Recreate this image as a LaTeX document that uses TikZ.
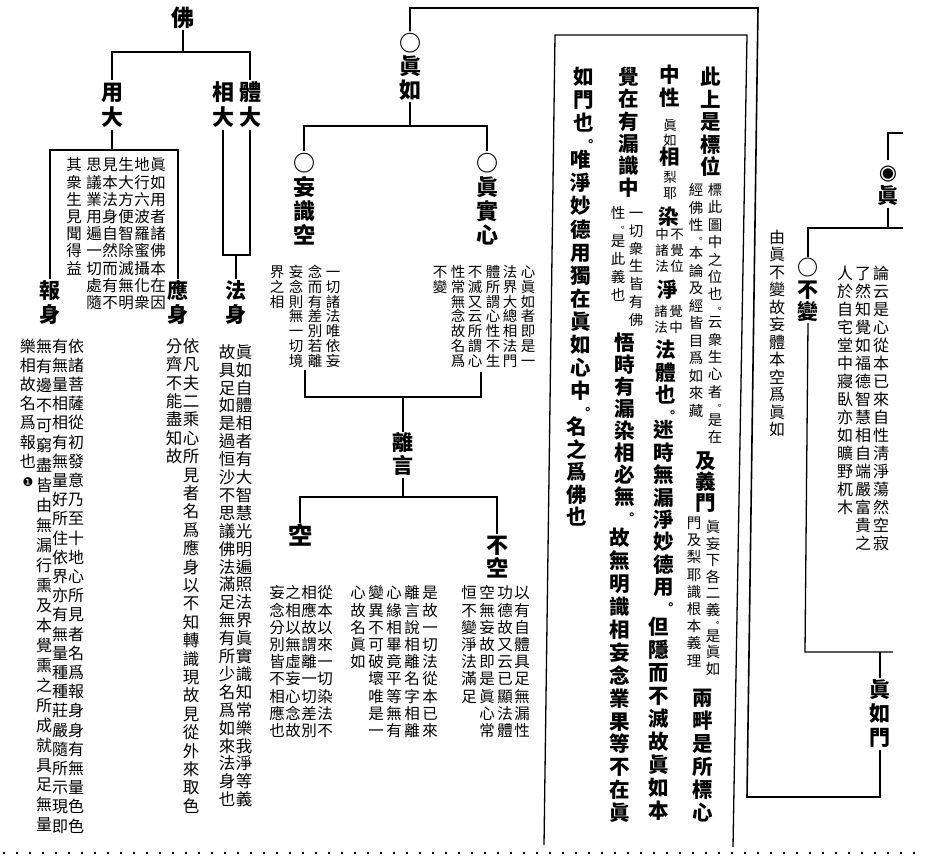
\documentclass[tikz,border=0pt]{standalone}
\usepackage{fontspec}
\newfontfamily\cjk{Noto Sans CJK TC}
\newfontfamily\djv{DejaVu Sans}
\newdimen\vsep
\newdimen\vw
\makeatletter
\def\vc@dot{。}
\def\cjstack#1{\vbox{\offinterlineskip\cjstack@a#1\relax}}
\def\cjstack@a#1{\ifx\relax#1\else\cjstack@cell{#1}\expandafter\cjstack@a\fi}
\def\cjstack@cell#1{\def\vc@a{#1}\ifx\vc@a\vc@dot
  \vbox to 0.6\vsep{\vss\hbox to\vw{\hss\kern0.6\vw
    \fontsize{\the\dimexpr0.56\vsep\relax}{\the\dimexpr0.56\vsep\relax}\selectfont
    \vrule height0.88em depth0.12em width0pt\smash{#1}\hss}\vss}%
 \else\vbox to\vsep{\vss\hbox to\vw{\hss\vrule height0.88em depth0.12em width0pt\smash{#1}\hss}\vss}\fi}
\makeatother
\newcommand\markone{{\djv\fontsize{12}{12}\selectfont ❶}}
\newcommand\fisheye{{\djv ◉}}
\tikzset{
  vt/.style 2 args={inner sep=0pt, outer sep=0pt, anchor=north,
    font=\cjk\fontsize{#1}{#1}\selectfont,
    execute at begin node={\vsep=#2pt\vw=#1pt\vw=1.1\vw}},
  vtb/.style 2 args={vt={#1}{#2}, font=\cjk\bfseries\fontsize{#1}{#1}\selectfont},
  ln/.style={line width=1.3pt, line cap=butt},
}
\newcommand\cjcol[6]{\node[vt={#4}{#5}] (#1) at (#2,{#3-#5/2}) {\cjstack{#6}};}
\newcommand\cjcolb[6]{\node[vtb={#4}{#5}] (#1) at (#2,{#3-#5/2}) {\cjstack{#6}};}
\begin{document}
\begin{tikzpicture}[x=1pt,y=-1pt]
\useasboundingbox (0,0) rectangle (925,857);
\fill[white] (0,0) rectangle (925,857);

% ---------------- left tree: 佛 ----------------
\cjcolb{fo}{183}{18}{23}{24}{佛}
\cjcolb{yong}{112}{92}{22}{25}{用大}
\cjcolb{ti}{250}{92}{22}{25}{體大}
\cjcolb{xiang}{223}{92}{22}{25}{相大}
\cjcolb{bao}{50}{291}{21}{24}{報身}
\cjcolb{ying}{178}{291}{21}{24}{應身}
\cjcolb{fa}{236}{291}{21}{24}{法身}

\coordinate (fj) at (183,52);
\coordinate (yl) at (112,52);
\coordinate (tr) at (250,52);
\draw[ln] (fo.south) -- (fj);
\draw[ln] (yong.north) -- (yl) -- (tr) -- (ti.north);
\coordinate (yb) at (112,150);
\coordinate (bl) at (50,150);
\coordinate (br) at (178,150);
\draw[ln] (yong.south) -- (yb);
\draw[ln] (bao.north) -- (bl) -- (br) -- (ying.north);
\coordinate (fb) at (236,255);
\draw[ln] (xiang.south) -- (xiang.south |- fb) -- (ti.south |- fb) -- (ti.south);
\draw[ln] (fb) -- (fa.north);

% box text under 用大
\cjcol{ya1}{158}{165}{15.5}{17.2}{眞如用者諸佛本在因}
\cjcol{ya2}{142}{165}{15.5}{17.2}{地行六波羅蜜攝化衆}
\cjcol{ya3}{126}{165}{15.5}{17.2}{生大方便智除滅無明}
\cjcol{ya4}{110}{165}{15.5}{17.2}{見本法身自然而有不}
\cjcol{ya5}{94}{165}{15.5}{17.2}{思議業用遍一切處隨}
\cjcol{ya6}{74}{165}{15.5}{17.2}{其衆生見聞得益}

% 報身 text
\cjcol{bt1}{76}{346}{16}{19.2}{依諸菩薩從初發意乃至十地心所見者名爲報身身有無量色色}
\cjcol{bt2}{60}{346}{16}{19.2}{有無量相相有無量好所住依界亦有無量種種莊嚴隨所示現即}
\cjcol{bt3}{44}{346}{16}{19.95}{無有邊不可窮盡皆由無漏行熏及本覺熏之所成就具足無量}
\cjcol{bt4}{28}{346}{16}{19.2}{樂相故名爲報也\markone}

% 應身 text
\cjcol{yt1}{191}{346}{16.5}{18.4}{依凡夫二乘心所見者名爲應身以不知轉識現故見從外來取色}
\cjcol{yt2}{174}{346}{16.5}{18.4}{分齊不能盡知故}

% 法身 text
\cjcol{ft1}{244}{352}{16.5}{17.9}{眞如自體相者有大智慧光明遍照法界眞實識知常樂我淨等義}
\cjcol{ft2}{227}{352}{16.5}{17.9}{故具足如是過恒沙不思議佛法滿足無有所少名爲如來法身也}

% ---------------- middle tree: 眞如 ----------------
\cjcolb{zhenru}{410}{43}{22}{23.5}{○眞如}
\cjcolb{wang}{304}{163}{22}{24}{○妄識空}
\cjcolb{zs}{487}{163}{22}{24}{○眞實心}
\coordinate (m1) at (410,126);
\draw[ln] (zhenru.south) -- (m1);
\draw[ln] (wang.north) -- (wang.north |- m1) -- (zs.north |- m1) -- (zs.north);

\cjcol{wt1}{333}{272}{14.5}{14.8}{一切諸法唯依妄}
\cjcol{wt2}{315}{272}{14.5}{14.8}{念而有差別若離}
\cjcol{wt3}{296}{272}{14.5}{14.8}{妄念則無一切境}
\cjcol{wt4}{277}{272}{14.5}{14.8}{界之相}

\cjcol{zt1}{528}{272}{14.5}{14.8}{心眞如者即是一}
\cjcol{zt2}{510}{272}{14.5}{14.8}{法界大總相法門}
\cjcol{zt3}{493}{272}{14.5}{14.8}{體所謂心性不生}
\cjcol{zt4}{475}{272}{14.5}{14.8}{不滅又云所謂心}
\cjcol{zt5}{458}{272}{14.5}{14.8}{性常無念故名爲}
\cjcol{zt6}{440}{272}{14.5}{14.8}{不變}

\coordinate (u1) at (305,370);
\coordinate (u2) at (305,397);
\coordinate (u3) at (481,397);
\coordinate (u4) at (481,372);
\coordinate (um) at (403,397);
\draw[ln] (u1) -- (u2) -- (u3) -- (u4);

\cjcolb{li}{403}{443}{21}{23}{離言}
\draw[ln] (um) -- (li.north);
\cjcolb{kong}{300}{535}{24}{25}{空}
\cjcolb{bukong}{497}{545}{22}{23}{不空}
\coordinate (l1) at (403,497);
\draw[ln] (li.south) -- (l1);
\draw[ln] (kong.north) -- (kong.north |- l1) -- (bukong.north |- l1) -- (bukong.north);

\cjcol{kt1}{325}{593}{15.5}{17.2}{從本以來一切染法不}
\cjcol{kt2}{309}{593}{15.5}{17.2}{相應故謂離一切差別}
\cjcol{kt3}{293}{593}{15.5}{17.2}{之相以無虛妄心念故}
\cjcol{kt4}{277}{593}{15.5}{17.2}{妄念分別皆不相應也}

\cjcol{lt1}{430}{593}{15.5}{17.2}{是故一切法從本已來}
\cjcol{lt2}{412}{593}{15.5}{17.2}{離言說相離名字相離}
\cjcol{lt3}{394}{593}{15.5}{17.2}{心緣相畢竟平等無有}
\cjcol{lt4}{376}{593}{15.5}{17.2}{變異不可破壞唯是一}
\cjcol{lt5}{358}{593}{15.5}{17.2}{心故名眞如}

\cjcol{nt1}{522}{593}{15.5}{17.2}{以有自體具足無漏性}
\cjcol{nt2}{505}{593}{15.5}{17.2}{功德故又云已顯法體}
\cjcol{nt3}{487}{593}{15.5}{17.2}{空無妄故即是眞心常}
\cjcol{nt4}{469}{593}{15.5}{17.2}{恒不變淨法滿足}

% ---------------- main text box ----------------
\coordinate (b1) at (544,845);
\coordinate (b2) at (555,35);
\coordinate (b3) at (747,35);
\coordinate (b4) at (733,847);
\draw[ln] (b1) -- (b2) -- (b3) -- (b4);

\cjcolb{m1a}{711}{77}{20.5}{22.5}{此上是標位}
\cjcol{m1b}{715}{190}{14.5}{17.4}{標此圖中之位也。云衆生心者。是在}
\cjcol{m1c}{696}{190}{14.5}{17.5}{經佛性。本論及經皆目爲如來藏}
\cjcolb{m1d}{706}{461}{20.5}{21}{及義門}
\cjcol{m1e}{713}{527}{14.5}{16.5}{眞妄下各二義。是眞如}
\cjcol{m1f}{694}{523}{14.5}{17.2}{門及梨耶識根本義理}
\cjcolb{m1g}{703}{698}{20.5}{23}{兩畔是所標心}

\cjcolb{m2a}{670}{75}{20.5}{23}{中性}
\cjcol{m2b}{670}{125}{13.5}{15}{眞如}
\cjcolb{m2c}{670}{157}{20.5}{22}{相}
\cjcol{m2d}{670}{177}{13.5}{16}{梨耶}
\cjcolb{m2e}{669}{217}{20.5}{22}{染}
\cjcol{m2f}{677}{234}{13.5}{16}{不覺位}
\cjcol{m2g}{662}{234}{13.5}{16}{中諸法}
\cjcolb{m2h}{668}{290}{20.5}{22}{淨}
\cjcol{m2i}{676}{311}{13.5}{16}{覺中}
\cjcol{m2j}{661}{311}{13.5}{16}{諸法}
\cjcolb{m2k}{666}{350}{20.5}{22.5}{法體也。}
\cjcolb{m2l}{664}{430}{20.5}{22.4}{迷時無漏淨妙德用。}
\cjcolb{m2m}{659}{627}{20.5}{23}{但隱而不滅故眞如本}

\cjcolb{m3a}{629}{77}{20.5}{22.2}{覺在有漏識中}
\cjcol{m3b}{636}{213}{14.5}{17.8}{一切衆生皆有佛}
\cjcol{m3c}{618}{213}{14.5}{17.8}{性。是此義也}
\cjcolb{m3d}{625}{343}{20.5}{22}{悟時有漏染相必無。}
\cjcolb{m3e}{620}{538}{20.5}{22.9}{故無明識相妄念業果等不在眞}

\cjcolb{m4a}{584}{77}{20.5}{23}{如門也。}
\cjcolb{m4b}{581}{160}{20.5}{23.1}{唯淨妙德用獨在眞如心中。}
\cjcolb{m4c}{577}{427}{20.5}{22.5}{名之爲佛也}

% ---------------- far right: 眞 ----------------
\cjcolb{zhen2}{888}{172}{21}{24}{\fisheye 眞}
\cjcolb{bubian}{808}{268}{21}{22}{○不變}
\cjcolb{zhenrumen}{880}{690}{21}{24}{眞如門}
\coordinate (r0) at (903,133);
\draw[ln] (r0) -- (r0 -| zhen2.north) -- (zhen2.north);
\coordinate (r1) at (888,228);
\coordinate (r2) at (903,228);
\draw[ln] (zhen2.south) -- (r1);
\draw[ln] (bubian.north) -- (bubian.north |- r1) -- (r2);
\coordinate (r3) at (805,652);
\coordinate (r4) at (893,652);
\draw[ln] (bubian.south) -- (r3) -- (r4);
\draw[ln] (zhenrumen.north) -- (zhenrumen.north |- r4);

\cjcol{yz}{777}{237}{16}{17.5}{由眞不變故妄體本空爲眞如}
\cjcol{lu1}{881}{273}{16}{18}{論云是心從本已來自性淸淨蕩然空寂}
\cjcol{lu2}{863}{273}{16}{18}{了然知覺如福德智慧相自端嚴富貴之}
\cjcol{lu3}{845}{273}{16}{18}{人於自宅堂中寢臥亦如曠野杌木}

% long line from 眞如 round to 眞如門
\coordinate (t1) at (410,8);
\coordinate (t2) at (758,8);
\coordinate (t3) at (747,797);
\coordinate (t4) at (880,797);
\draw[line width=1.6pt] (zhenru.north) -- (t1) -- (t2) -- (t3) -- (t4) -- (zhenrumen.south);

% page edge marks
\draw[line width=1.4pt, dash pattern=on 2pt off 11pt] (3,853) -- (925,853);
\end{tikzpicture}
\end{document}
